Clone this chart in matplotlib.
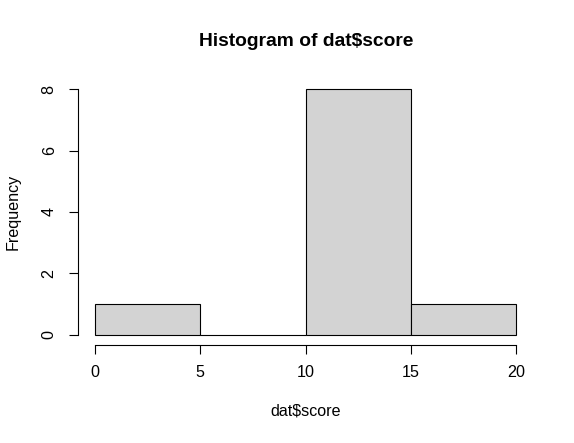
import matplotlib
matplotlib.use('Agg')
import matplotlib.pyplot as plt
import numpy as np

# histogram of dat$score: bin edges and counts
bin_edges = [0, 5, 10, 15, 20]
counts = [1, 0, 8, 1]
x_ticks = [0, 5, 10, 15, 20]
y_ticks = [0, 2, 4, 6, 8]

plt.rcParams['font.family'] = ['Liberation Sans', 'DejaVu Sans']

W, H = 574, 443
fig = plt.figure(figsize=(W / 100, H / 100), dpi=100)
left, right, top, bottom = 78.2, 532.8, 79.2, 344.8
ax = fig.add_axes([left / W, (H - bottom) / H, (right - left) / W, (bottom - top) / H])

widths = np.diff(bin_edges)
ax.bar(bin_edges[:-1], counts, width=widths, align='edge',
       color='#D3D3D3', edgecolor='black', linewidth=0.8)

ax.set_xlim(-0.8, 20.8)
ax.set_ylim(-0.32, 8.32)

for s in ['top', 'right']:
    ax.spines[s].set_visible(False)
ax.spines['left'].set_bounds(0, 8)
ax.spines['bottom'].set_bounds(0, 20)
for s in ['left', 'bottom']:
    ax.spines[s].set_linewidth(0.8)

ax.set_xticks(x_ticks)
ax.set_yticks(y_ticks)
ax.tick_params(axis='both', length=6.5, width=0.8, labelsize=11.6, direction='out')
ax.tick_params(axis='x', pad=8)
ax.tick_params(axis='y', pad=9, labelrotation=90)
for lbl in ax.get_yticklabels():
    lbl.set_va('center')

fig.text(306 / W, 1 - 41 / H, 'Histogram of dat$score', ha='center', va='center',
         fontsize=13.9, fontweight='bold')
fig.text(305.5 / W, 1 - 411 / H, 'dat$score', ha='center', va='center', fontsize=11.6)
fig.text(13 / W, 1 - 212 / H, 'Frequency', ha='center', va='center',
         rotation=90, fontsize=11.6)

plt.savefig('out.png', dpi=100)
